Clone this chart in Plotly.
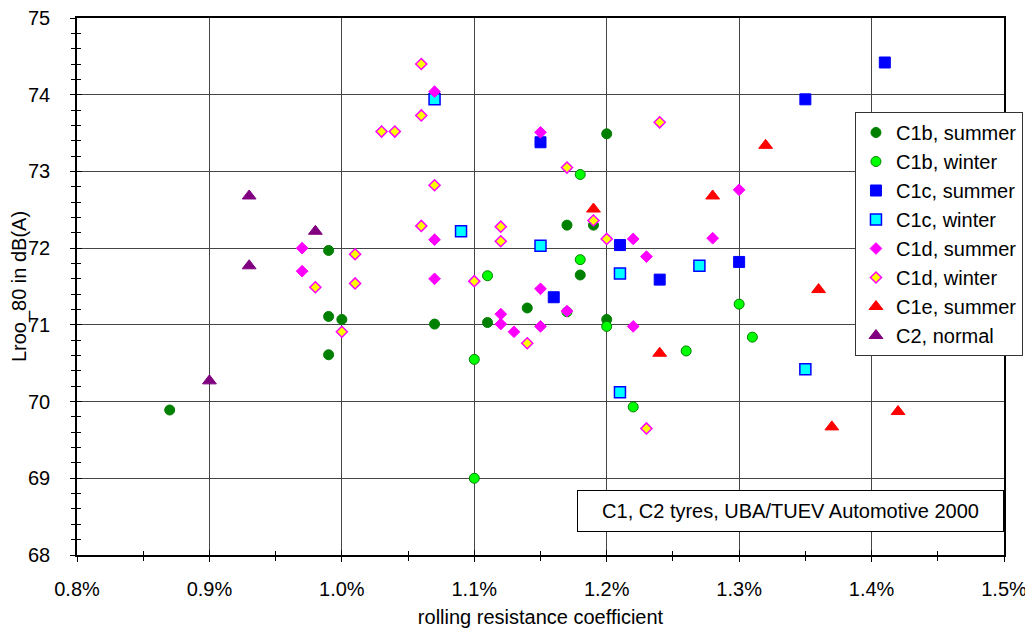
import plotly.graph_objects as go

# ---- data (rolling resistance coefficient in %, Lroo_80 in dB(A)) ----
c1b_summer_x = [0.87, 0.99, 0.99, 0.99, 1.00, 1.07, 1.11, 1.14, 1.17, 1.18, 1.19, 1.20, 1.20]
c1b_summer_y = [69.89, 71.97, 71.11, 70.61, 71.07, 71.01, 71.03, 71.22, 72.30, 71.65, 72.30, 73.49, 71.07]

c1b_winter_x = [1.10, 1.10, 1.11, 1.17, 1.18, 1.18, 1.20, 1.22, 1.26, 1.30, 1.31]
c1b_winter_y = [69.00, 70.55, 71.64, 71.17, 72.96, 71.85, 70.98, 69.93, 70.66, 71.27, 70.84]

c1c_summer_x = [1.15, 1.16, 1.21, 1.24, 1.30, 1.35, 1.41]
c1c_summer_y = [73.38, 71.36, 72.04, 71.59, 71.82, 73.94, 74.42]

c1c_winter_x = [1.07, 1.09, 1.15, 1.21, 1.21, 1.27, 1.35]
c1c_winter_y = [73.94, 72.22, 72.03, 71.67, 70.12, 71.77, 70.42]

c1d_summer_x = [0.97, 0.97, 1.07, 1.07, 1.07, 1.12, 1.12, 1.13, 1.15, 1.15, 1.15, 1.17,
                1.22, 1.22, 1.23, 1.28, 1.30]
c1d_summer_y = [72.00, 71.70, 74.04, 72.11, 71.60, 71.14, 71.01, 70.91, 73.51, 71.47, 70.98, 71.18,
                72.12, 70.98, 71.89, 72.13, 72.76]

c1d_winter_x = [0.98, 1.00, 1.01, 1.01, 1.03, 1.04, 1.06, 1.06, 1.06, 1.07, 1.10, 1.12, 1.12,
                1.14, 1.17, 1.19, 1.20, 1.23, 1.24]
c1d_winter_y = [71.49, 70.91, 71.92, 71.54, 73.52, 73.52, 74.40, 73.73, 72.29, 72.82, 71.57, 72.28, 72.09,
                70.76, 73.05, 72.36, 72.12, 69.65, 73.64]

c1e_summer_x = [1.19, 1.24, 1.28, 1.32, 1.36, 1.37, 1.42]
c1e_summer_y = [72.51, 70.63, 72.68, 73.34, 71.46, 69.67, 69.87]

c2_normal_x = [0.90, 0.93, 0.93, 0.98]
c2_normal_y = [70.27, 72.68, 71.77, 72.22]

series_names = ["C1b, summer", "C1b, winter", "C1c, summer", "C1c, winter",
                "C1d, summer", "C1d, winter", "C1e, summer", "C2, normal"]

x_range = [0.8, 1.5]
y_range = [68, 75]
annotation_text = "C1, C2 tyres, UBA/TUEV Automotive 2000"

FONT = "Liberation Sans, Arial, sans-serif"

fig = go.Figure()

styles = [
    (c1b_summer_x, c1b_summer_y, dict(symbol="circle", size=10, color="#008000", line=dict(color="#008000", width=1))),
    (c1b_winter_x, c1b_winter_y, dict(symbol="circle", size=10, color="#00ff00", line=dict(color="#008000", width=1))),
    (c1c_summer_x, c1c_summer_y, dict(symbol="square", size=11, color="#0000ff", line=dict(color="#0000ff", width=1))),
    (c1c_winter_x, c1c_winter_y, dict(symbol="square", size=11, color="#00ffff", line=dict(color="#0000ff", width=1.5))),
    (c1d_summer_x, c1d_summer_y, dict(symbol="diamond", size=9, color="#ff00ff", line=dict(color="#ff00ff", width=1))),
    (c1d_winter_x, c1d_winter_y, dict(symbol="diamond", size=8.5, color="#ffff00", line=dict(color="#ff00ff", width=1.5))),
    (c1e_summer_x, c1e_summer_y, dict(symbol="triangle-up", size=12, color="#ff0000", line=dict(color="#ff0000", width=1))),
    (c2_normal_x, c2_normal_y, dict(symbol="triangle-up", size=12, color="#800080", line=dict(color="#800080", width=1))),
]

for name, (xs, ys, mk) in zip(series_names, styles):
    fig.add_trace(go.Scatter(x=xs, y=ys, mode="markers", name=name, marker=mk))

# dummy trace to activate overlay axes (for crossing ticks)
fig.add_trace(go.Scatter(x=[], y=[], xaxis="x2", yaxis="y2", showlegend=False, hoverinfo="skip"))

grid_color = "#454545"

# page body has an 8px default margin, so the figure is 8px smaller
fig.update_layout(
    width=1025, height=620,
    margin=dict(l=69, r=23, t=10, b=73),
    paper_bgcolor="white", plot_bgcolor="white",
    font=dict(family=FONT, size=20, color="black"),
    showlegend=True,
    legend=dict(
        x=(860 - 77) / 933, y=(555 - 112) / 537, xanchor="left", yanchor="top",
        bgcolor="white", bordercolor="#333333", borderwidth=1,
        font=dict(family=FONT, size=20, color="black"),
        itemwidth=30, tracegroupgap=0,
    ),
    xaxis=dict(
        range=x_range, dtick=0.1, tick0=0.8, tickformat=".1f", ticksuffix="%",
        showgrid=True, gridcolor=grid_color, gridwidth=1, zeroline=False,
        showline=True, linecolor="black", linewidth=1.5, mirror=True,
        ticks="outside", ticklen=5, tickcolor="black", tickwidth=1,
        minor=dict(dtick=0.05, ticks="outside", ticklen=4, tickcolor="black", showgrid=False),
        ticklabelstandoff=10, automargin=False, ticklabeloverflow="allow",
        title=dict(text="rolling resistance coefficient", font=dict(size=20), standoff=18),
        fixedrange=True,
    ),
    yaxis=dict(
        range=y_range, dtick=1, tick0=68,
        showgrid=True, gridcolor=grid_color, gridwidth=1, zeroline=False,
        showline=True, linecolor="black", linewidth=1.5, mirror=True,
        ticks="outside", ticklen=5, tickcolor="black", tickwidth=1,
        minor=dict(dtick=0.2, ticks="outside", ticklen=4, tickcolor="black", showgrid=False),
        ticklabelstandoff=16, automargin=False, ticklabeloverflow="allow",
        title=dict(text="Lroo_80 in dB(A)", font=dict(size=20), standoff=1),
        fixedrange=True,
    ),
    xaxis2=dict(
        overlaying="x", anchor="y2", side="bottom", range=x_range, dtick=0.1, tick0=0.8,
        showgrid=False, zeroline=False, showline=False, showticklabels=False,
        ticks="inside", ticklen=5, tickcolor="black", tickwidth=1,
        minor=dict(dtick=0.05, ticks="inside", ticklen=4, tickcolor="black", showgrid=False),
        fixedrange=True, automargin=False,
    ),
    yaxis2=dict(
        overlaying="y", anchor="x2", side="left", range=y_range, dtick=1, tick0=68,
        showgrid=False, zeroline=False, showline=False, showticklabels=False,
        ticks="inside", ticklen=5, tickcolor="black", tickwidth=1,
        minor=dict(dtick=0.2, ticks="inside", ticklen=4, tickcolor="black", showgrid=False),
        fixedrange=True, automargin=False,
    ),
    annotations=[dict(
        text=annotation_text, xref="paper", yref="paper",
        x=(795 - 77) / 933, y=(555 - 511) / 537, xanchor="center", yanchor="middle",
        showarrow=False, font=dict(family=FONT, size=20, color="black"),
        bgcolor="white", bordercolor="black", borderwidth=1, borderpad=0,
        width=425, height=40, align="center", valign="middle",
    )],
)

fig.write_html("out.html")
